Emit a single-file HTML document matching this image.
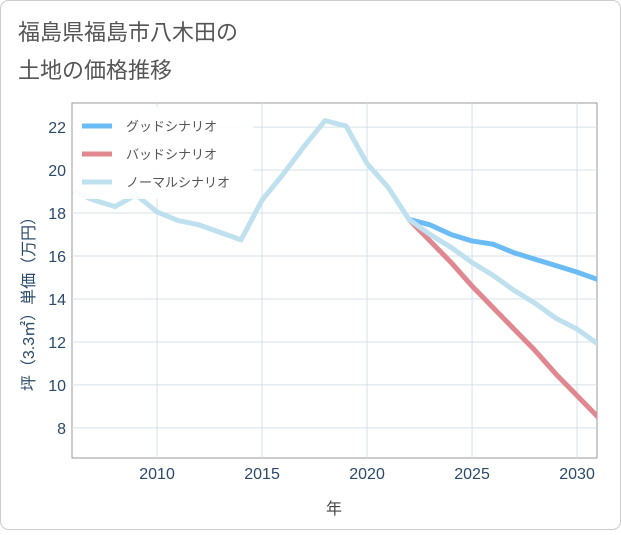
<!DOCTYPE html>
<html><head><meta charset="utf-8"><style>
body{margin:0;background:#fff;}
svg text{font-family:"Liberation Sans","Noto Sans CJK JP",sans-serif;}
</style></head><body>
<svg id="c" width="621" height="530" xmlns="http://www.w3.org/2000/svg">
<rect x="0.5" y="0.5" width="620" height="529" rx="8" fill="#fff" stroke="#ccc"/>
<text x="18" y="40" font-size="22" fill="#555">福島県福島市八木田の</text>
<text x="18" y="78" font-size="22" fill="#555">土地の価格推移</text>
<g id="grid"></g>
<g id="series"></g>
<g id="axes"></g>
<text x="334" y="514" font-size="16" fill="#444" text-anchor="middle">年</text>
<text transform="translate(34,300) rotate(-90)" font-size="16" fill="#2a4a6a" text-anchor="middle">坪（3.3㎡）単価（万円）</text>
<g>
<rect x="73" y="107" width="180" height="92" fill="#fff" fill-opacity="0.9"/>
<line x1="82" y1="126" x2="112" y2="126" stroke="#6bbcf5" stroke-width="5"/>
<text x="126" y="131" font-size="13" fill="#555">グッドシナリオ</text>
<line x1="82" y1="154" x2="112" y2="154" stroke="#e0878f" stroke-width="5"/>
<text x="126" y="159" font-size="13" fill="#555">バッドシナリオ</text>
<line x1="82" y1="182" x2="112" y2="182" stroke="#bfe0ee" stroke-width="5"/>
<text x="126" y="187" font-size="13" fill="#555">ノーマルシナリオ</text>
</g>
</svg>
<script>
const normalYears=[2006,2007,2008,2009,2010,2011,2012,2013,2014,2015,2016,2017,2018,2019,2020,2021,2022,2023,2024,2025,2026,2027,2028,2029,2030,2031];
const normalValues=[19.0,18.6,18.3,18.85,18.05,17.65,17.45,17.1,16.75,18.6,19.8,21.1,22.3,22.05,20.3,19.2,17.7,17.0,16.4,15.7,15.1,14.4,13.8,13.1,12.6,11.9];
const futureYears=[2022,2023,2024,2025,2026,2027,2028,2029,2030,2031];
const goodValues=[17.7,17.45,17.0,16.7,16.55,16.15,15.85,15.55,15.25,14.9];
const badValues=[17.7,16.7,15.7,14.6,13.6,12.6,11.6,10.5,9.5,8.5];
const xTicks=[2010,2015,2020,2025,2030];
const yTicks=[8,10,12,14,16,18,20,22];
const L=72,R=597,T=103,B=458,X0=2005.95,X1=2030.95,Y0=6.6,Y1=23.12;
const sx=v=>L+(v-X0)/(X1-X0)*(R-L);
const sy=v=>B-(v-Y0)/(Y1-Y0)*(B-T);
const NS="http://www.w3.org/2000/svg";
function mk(tag,attrs,parent){const e=document.createElementNS(NS,tag);for(const k in attrs)e.setAttribute(k,attrs[k]);document.getElementById(parent).appendChild(e);return e;}
const bg=mk('rect',{x:L,y:T,width:R-L,height:B-T,fill:'#fff',stroke:'#999','stroke-width':1},'grid');


xTicks.forEach(t=>{
 const g=mk('line',{x1:sx(t),x2:sx(t),y1:T,y2:B,stroke:'#d5e0ea'},'grid');
 
 
 const tx=mk('text',{x:sx(t),y:479,'font-size':16,fill:'#2a4a6a','text-anchor':'middle'},'axes');
 tx.textContent=t;
 
 
});
yTicks.forEach(t=>{
 const g=mk('line',{x1:L,x2:R,y1:sy(t),y2:sy(t),stroke:'#d5e0ea'},'grid');
 
 
 const tx=mk('text',{x:66,y:sy(t)+6,'font-size':16,fill:'#2a4a6a','text-anchor':'end'},'axes');
 tx.textContent=t;
 
 
});
function line(xs,ys,color,name){
 const p=mk('polyline',{points:xs.map((x,i)=>sx(x)+','+sy(ys[i])).join(' '),fill:'none',stroke:color,'stroke-width':5,'stroke-linejoin':'round','clip-path':'url(#clip)'},'series');
 
 
}
const defs=document.createElementNS(NS,'defs');
defs.innerHTML='<clipPath id="clip"><rect x="'+L+'" y="'+T+'" width="'+(R-L)+'" height="'+(B-T)+'"/></clipPath>';
document.getElementById('c').prepend(defs);
line(futureYears,badValues,'#e0878f','bad-scenario-line');
line(futureYears,goodValues,'#6bbcf5','good-scenario-line');
line(normalYears,normalValues,'#bfe0ee','normal-scenario-line');
</script>
</body></html>
